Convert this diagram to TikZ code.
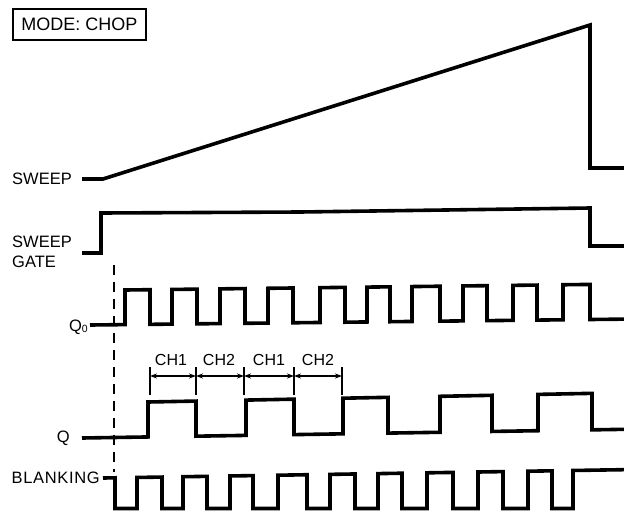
\documentclass[tikz,border=0pt]{standalone}
\usepackage{fontspec}
\setmainfont{Liberation Sans}
\usetikzlibrary{arrows.meta}
\begin{document}
\begin{tikzpicture}[x=1pt,y=-1pt,
  wave/.style={line width=3.6pt, line join=miter},
  lbl/.style={font=\fontsize{16.5}{18}\selectfont, inner sep=0pt},
  tickline/.style={line width=1.4pt},
  spanarrow/.style={line width=1.4pt, {Stealth[length=7pt,width=5pt]}-{Stealth[length=7pt,width=5pt]}},
  chl/.style={font=\fontsize{16}{17}\selectfont, inner sep=0pt},
  dashline/.style={line width=1.4pt, dash pattern=on 10pt off 7pt}
]
\useasboundingbox (0,0) rectangle (624,512);

% mode box
\node[draw, line width=1.3pt, minimum width=133pt, minimum height=31pt, inner sep=0pt,
      font=\fontsize{18}{20}\selectfont] (mode) at (79.5,24.5) {MODE: CHOP};

% labels
\node[lbl, anchor=base east] (sweep) at (72,184.5) {SWEEP};
\node[lbl, anchor=base west] (sg1) at (12,247) {SWEEP};
\node[lbl, anchor=base west] (sg2) at (12,267) {GATE};
\node[lbl, anchor=base east] (q0) at (88,331) {Q\raisebox{-0.15ex}{\fontsize{10.5}{10.5}\selectfont 0}};
\node[lbl, anchor=base east] (q) at (70,442) {Q};
\node[lbl, anchor=base east] (blank) at (100,483) {\addfontfeature{LetterSpace=4}BLANKING};

% sweep
\draw[wave] (82,179) -- (103,179) -- (590,25) -- (590,168) -- (624,168);
% sweep gate
\draw[wave] (82,253) -- (101,253) -- (101,213) -- (300,212) -- (590,208) -- (590,246) -- (624,246);

% Q0
\draw[wave] (90,325)
  foreach \r/\f in {125/150,172/197,220/245,268/293,320/345,367/390,412/440,463/487,513/537,563/590}
  { -- (\r,{325-0.011*(\r-90)}) -- (\r,{290-0.012*(\r-125)}) -- (\f,{290-0.012*(\f-125)}) -- (\f,{325-0.011*(\f-90)}) }
  -- (624,{325-0.011*(624-90)});

% Q
\draw[wave] (82,438)
  foreach \r/\f in {148/196,246/294,343/388,440/492,538/592}
  { -- (\r,{438-0.016*(\r-82)}) -- (\r,{402-0.0195*(\r-148)}) -- (\f,{402-0.0195*(\f-148)}) -- (\f,{438-0.016*(\f-82)}) }
  -- (624,{438-0.016*(624-82)});

% Blanking
\draw[wave] (103,478)
  foreach \f/\r in {115/137,162/183,207/230,253/278,307/330,355/378,402/427,453/478,503/528,552/573}
  { -- (\f,{478-0.016*(\f-103)}) -- (\f,508.5) -- (\r,508.5) -- (\r,{478-0.016*(\r-103)}) }
  -- (624,{478-0.016*(624-103)});

% dashed marker
\coordinate (d1) at (114,265);
\coordinate (d2) at (114,472);
\draw[dashline] (d1) -- (d2);

% CH spans
\foreach \i/\x in {1/150,2/196,3/244,4/294,5/342} {
  \coordinate (a\i) at (\x,376);
  \coordinate (t\i) at (\x,367);
  \coordinate (b\i) at (\x,395);
  \draw[tickline] (t\i) -- (b\i);
}
\draw[spanarrow] (a1) -- (a2);
\draw[spanarrow] (a2) -- (a3);
\draw[spanarrow] (a3) -- (a4);
\draw[spanarrow] (a4) -- (a5);
\node[chl, anchor=base] (c1) at (171,365) {CH1};
\node[chl, anchor=base] (c2) at (219,365) {CH2};
\node[chl, anchor=base] (c3) at (269,365) {CH1};
\node[chl, anchor=base] (c4) at (318,365) {CH2};
\end{tikzpicture}
\end{document}
